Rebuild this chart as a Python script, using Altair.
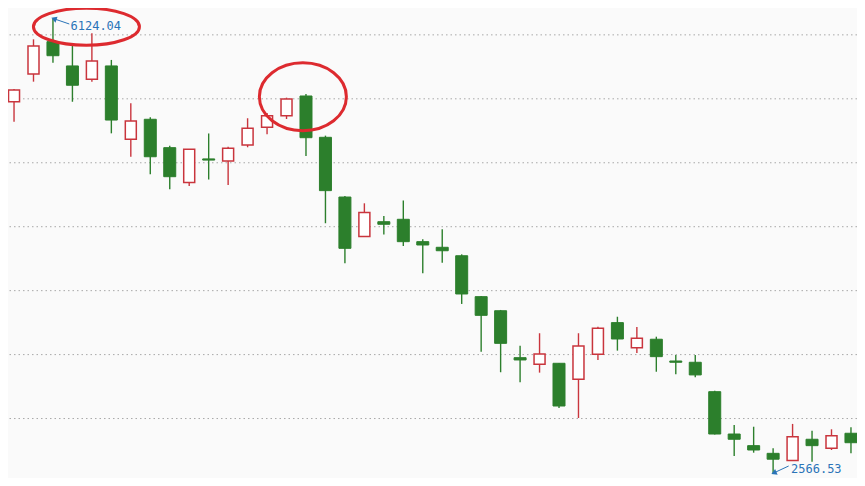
import altair as alt
import pandas as pd

# --- data (price levels) ---
idx = list(range(1, 45))
opens = [5477, 5694, 5947, 5757, 5653, 5757, 5184, 5340, 5118, 4846,
         5030, 5014, 5139, 5277, 5368, 5522, 5199, 4732, 4424, 4539,
         4558, 4383, 4339, 4273, 3953, 3843, 3476, 3424, 3432, 3307,
         3502, 3750, 3554, 3620, 3450, 3440, 3210, 2879, 2788, 2728,
         2671, 2838, 2768, 2885]
highs = [5577, 5965, 6124.04, 5934, 6012, 5804, 5465, 5356, 5133, 5108,
         5229, 5126, 5348, 5389, 5509, 5538, 5212, 4740, 4683, 4584,
         4705, 4402, 4480, 4284, 3958, 3849, 3570, 3667, 3434, 3667,
         3718, 3796, 3716, 3640, 3497, 3497, 3218, 2950, 2936, 2768,
         2958, 2905, 2916, 2932]
lows = [5321, 5634, 5782, 5477, 5634, 5230, 5047, 4910, 4793, 4818,
        4869, 4826, 5121, 5223, 5342, 5053, 4527, 4214, 4420, 4439,
        4349, 4136, 4219, 3896, 3523, 3362, 3284, 3359, 3083, 3004,
        3458, 3531, 3513, 3366, 3346, 3323, 2875, 2707, 2733, 2566.53,
        2668, 2663, 2754, 2728]
closes = [5569, 5913, 5837, 5606, 5796, 5334, 5327, 5047, 4891, 5105,
          5021, 5113, 5270, 5368, 5499, 5196, 4782, 4331, 4611, 4519,
          4383, 4357, 4312, 3974, 3807, 3588, 3458, 3505, 3098, 3567,
          3706, 3622, 3628, 3484, 3440, 3341, 2879, 2838, 2754, 2682,
          2858, 2788, 2866, 2811]
grid_levels = [3000, 3500, 4000, 4500, 5000, 5500, 6000]

# annotations: max / min labels
label_text = ["6124.04", "2566.53"]
label_x = [3.9, 40.92]
label_y = [6069, 2606]
arrow_x = [3.84, 40.8]
arrow_y = [6085, 2629]
arrow_tip_x = [3.05, 40.04]
arrow_tip_y = [6126, 2575]
arrow_angle = [19, 336]

# red ellipses highlighting two tops
ell_x = [4.72, 15.84]
ell_y = [6064, 5516]

RED = "#c9353d"
GREEN = "#2c7f2c"
BLUE = "#2a74b8"

df = pd.DataFrame({"i": idx, "open": opens, "high": highs, "low": lows, "close": closes})
df["up"] = df["close"] >= df["open"]

W, H = 849, 470
xs = alt.Scale(domain=[0.69, 44.31], nice=False, zero=False, padding=0)
ys = alt.Scale(domain=[2535.1, 6210.05], nice=False, zero=False, padding=0)

X = alt.X("i:Q", scale=xs, axis=None)

grid = alt.Chart(pd.DataFrame({"g": grid_levels})).mark_rule(
    color="#a8a8a8", strokeWidth=1, strokeDash=[1.5, 3]
).encode(y=alt.Y("g:Q", scale=ys, axis=None))

base = alt.Chart(df)

wick_up = base.transform_filter(alt.datum.up).mark_rule(color=RED, strokeWidth=1.4).encode(
    x=X, y=alt.Y("low:Q", scale=ys, axis=None), y2="high:Q")
wick_dn = base.transform_filter(~alt.datum.up).mark_rule(color=GREEN, strokeWidth=1.4).encode(
    x=X, y=alt.Y("low:Q", scale=ys, axis=None), y2="high:Q")

body_up = base.transform_filter(alt.datum.up).mark_bar(
    size=11, fill="#ffffff", stroke=RED, strokeWidth=1.5
).encode(x=X, y=alt.Y("open:Q", scale=ys, axis=None), y2="close:Q")
body_dn = base.transform_filter(~alt.datum.up).mark_bar(
    size=12, fill=GREEN, stroke=GREEN, strokeWidth=1
).encode(x=X, y=alt.Y("open:Q", scale=ys, axis=None), y2="close:Q")

ann = pd.DataFrame({
    "t": label_text, "lx": label_x, "ly": label_y,
    "ax": arrow_x, "ay": arrow_y, "tx": arrow_tip_x, "ty": arrow_tip_y,
    "ang": arrow_angle,
})
labels = alt.Chart(ann).mark_text(
    align="left", baseline="middle", font="DejaVu Sans Mono", fontSize=12, color=BLUE
).encode(x=alt.X("lx:Q", scale=xs, axis=None), y=alt.Y("ly:Q", scale=ys, axis=None), text="t:N")
arrows = alt.Chart(ann).mark_rule(color=BLUE, strokeWidth=1).encode(
    x=alt.X("ax:Q", scale=xs, axis=None), x2="tx:Q",
    y=alt.Y("ay:Q", scale=ys, axis=None), y2="ty:Q")
heads = alt.Chart(ann).mark_point(
    shape="triangle-left", filled=True, color=BLUE, size=40, opacity=1
).encode(
    x=alt.X("tx:Q", scale=xs, axis=None), y=alt.Y("ty:Q", scale=ys, axis=None),
    angle=alt.Angle("ang:Q", scale=None))

k1, k2 = 0.349, 0.78
def ellipse_path(k):
    c = 0.5523
    return (f"M -1 0 C -1 {-c*k:.4f} {-c:.4f} {-k:.4f} 0 {-k:.4f} "
            f"C {c:.4f} {-k:.4f} 1 {-c*k:.4f} 1 0 "
            f"C 1 {c*k:.4f} {c:.4f} {k:.4f} 0 {k:.4f} "
            f"C {-c:.4f} {k:.4f} -1 {c*k:.4f} -1 0 Z")

e1 = alt.Chart(pd.DataFrame({"ex": ell_x[:1], "ey": ell_y[:1]})).mark_point(
    shape=ellipse_path(k1), size=106 ** 2, filled=False, stroke="#dd2a2f", strokeWidth=3, opacity=1
).encode(x=alt.X("ex:Q", scale=xs, axis=None), y=alt.Y("ey:Q", scale=ys, axis=None))
e2 = alt.Chart(pd.DataFrame({"ex": ell_x[1:], "ey": ell_y[1:]})).mark_point(
    shape=ellipse_path(k2), size=87 ** 2, filled=False, stroke="#dd2a2f", strokeWidth=3, opacity=1
).encode(x=alt.X("ex:Q", scale=xs, axis=None), y=alt.Y("ey:Q", scale=ys, axis=None))

chart = alt.layer(
    grid, wick_up, wick_dn, body_up, body_dn, arrows, heads, labels, e1, e2
).properties(
    width=W, height=H, padding=0, autosize="none", background="#fafafa"
).configure_view(stroke=None)

chart.save("out.html", embed_options={"renderer": "svg", "actions": False})
